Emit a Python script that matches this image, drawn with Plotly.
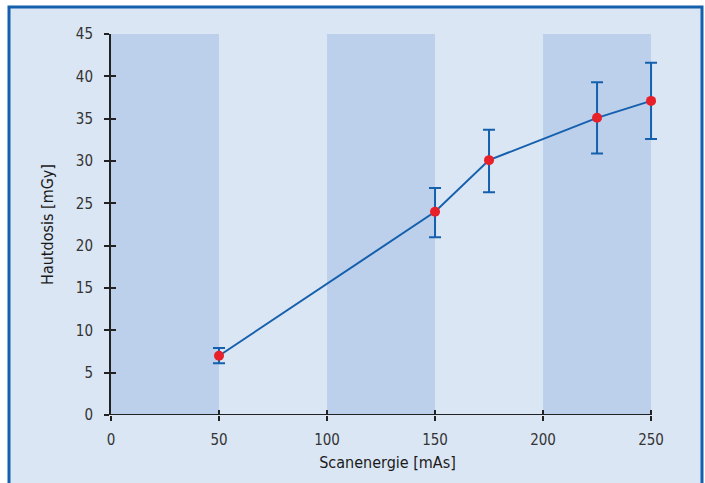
import plotly.graph_objects as go

x_vals = [50, 150, 175, 225, 250]
y_vals = [7.0, 24.0, 30.1, 35.1, 37.1]
err_plus = [0.9, 2.8, 3.6, 4.2, 4.5]
err_minus = [0.9, 3.0, 3.8, 4.2, 4.5]
band_x0 = [0, 100, 200]
band_x1 = [50, 150, 250]
band_ytop = 45
x_ticks = [0, 50, 100, 150, 200, 250]
y_ticks = [0, 5, 10, 15, 20, 25, 30, 35, 40, 45]
x_max = 250
x_view_max = 256  # a little room so the last error cap isn't clipped

FONT = "Liberation Sans Narrow, DejaVu Sans Condensed, Roboto, sans-serif"
BLUE = "#1560ad"

fig = go.Figure()
fig.add_trace(go.Scatter(
    x=x_vals, y=y_vals, mode="lines+markers",
    line=dict(color=BLUE, width=2),
    marker=dict(color="#e8202a", size=10),
    error_y=dict(type="data", symmetric=False, array=err_plus, arrayminus=err_minus,
                 color=BLUE, thickness=2, width=6),
    cliponaxis=False,
    showlegend=False,
))
# overlay axes for crossing ticks
fig.add_trace(go.Scatter(x=[None], y=[None], xaxis="x2", yaxis="y2", showlegend=False))

shapes = [dict(type="rect", xref="paper", yref="paper",
               x0=-102 / 553, x1=591 / 553, y0=-0.6, y1=1.071,
               fillcolor="#dbe6f4", line=dict(color=BLUE, width=3), layer="below")]
for a, b in zip(band_x0, band_x1):
    shapes.append(dict(type="rect", xref="x", yref="y", x0=a, x1=b, y0=0, y1=band_ytop,
                       fillcolor="#bcd0ec", line=dict(width=0), layer="below"))
# x-axis line from 0 to 250
shapes.append(dict(type="line", xref="x", yref="y", x0=0, x1=x_max, y0=0, y1=0,
                   line=dict(color="#222", width=2), layer="above"))

axis_common = dict(showgrid=False, zeroline=False, ticks="outside", ticklen=5, tickwidth=2,
                   tickcolor="#222", tickfont=dict(size=15, color="#333", family=FONT))

fig.update_layout(
    width=705, height=483,
    margin=dict(l=111, r=41, t=34, b=68),
    paper_bgcolor="white", plot_bgcolor="rgba(0,0,0,0)",
    shapes=shapes,
    font=dict(family=FONT, color="#333"),
    xaxis=dict(range=[0, x_view_max], tickvals=x_ticks, ticklabelstandoff=6, showline=False,
               **axis_common,
               title=dict(text="Scanenergie [mAs]", font=dict(size=16, color="#1a1a1a", family=FONT), standoff=8)),
    yaxis=dict(range=[0, 45], tickvals=y_ticks, ticklabelstandoff=8, showline=True,
               linecolor="#222", linewidth=2, **axis_common,
               title=dict(text="Hautdosis [mGy]", font=dict(size=16, color="#1a1a1a", family=FONT), standoff=18)),
    xaxis2=dict(overlaying="x", range=[0, x_view_max], tickvals=x_ticks, showticklabels=False,
                showgrid=False, zeroline=False, ticks="inside", ticklen=5, tickwidth=2,
                tickcolor="#222", side="bottom", anchor="y"),
    yaxis2=dict(overlaying="y", range=[0, 45], tickvals=y_ticks, showticklabels=False,
                showgrid=False, zeroline=False, ticks="inside", ticklen=5, tickwidth=2,
                tickcolor="#222", side="left", anchor="x"),
)

fig.write_html("out.html", config={"displayModeBar": False},
               post_script="document.body.style.margin='0';document.body.style.overflow='hidden';")
